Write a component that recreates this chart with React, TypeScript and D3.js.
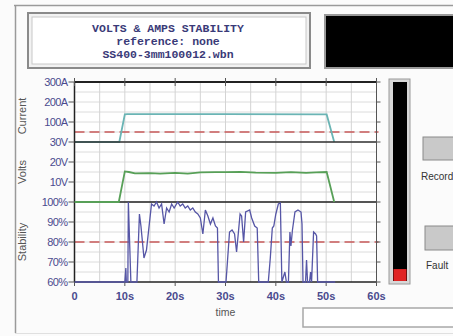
import React from "react";
import * as d3 from "d3";

// ---- data ----
const titleLines = ["VOLTS & AMPS STABILITY", "reference: none", "SS400-3mm100012.wbn"];
const timeTicks = [0, 10, 20, 30, 40, 50, 60];
const timeTickLabels = ["0", "10s", "20s", "30s", "40s", "50s", "60s"];
const currentTicks = [300, 200, 100];
const currentTickLabels = ["300A", "200A", "100A"];
const voltTicks = [30, 20, 10];
const voltTickLabels = ["30V", "20V", "10V"];
const stabTicks = [100, 90, 80, 70, 60];
const stabTickLabels = ["100%", "90%", "80%", "70%", "60%"];
const currentRef = 50;
const stabRef = 80;
const meterLevel = 0.06;

const currentT = [0, 8.9, 10.0, 10.5, 30, 50.1, 51.6];
const currentV = [0, 0, 138, 139, 139, 138, 0];

const voltT = [0, 8.8, 10.0, 10.8, 12, 15, 17, 20, 22.5, 25, 28, 30, 33, 36, 40, 43, 46, 48, 50.1, 51.6];
const voltV = [0, 0, 15.3, 15.0, 14.3, 14.4, 14.2, 14.6, 14.2, 14.8, 14.9, 14.9, 15.1, 14.7, 14.6, 14.9, 14.6, 14.8, 15.0, 0];

const stabT = [0, 10.0, 10.2, 10.3, 10.6, 10.7, 11.2, 12.4, 12.9, 13.2, 13.8, 14.3, 15.3, 15.8, 16.3, 16.8, 17.3, 17.8, 18.3, 18.8, 19.3, 19.8, 20.5, 21.0, 21.5, 22.0, 22.5, 23.0, 23.5, 24.0, 24.5, 25.0, 25.5, 26.0, 26.5, 27.0, 27.5, 28.0, 28.4, 28.6, 30.1, 30.8, 31.3, 31.8, 32.2, 32.9, 33.2, 33.6, 34.0, 34.8, 35.2, 35.8, 36.3, 36.6, 38.5, 38.9, 39.3, 39.6, 40.0, 40.5, 40.9, 41.2, 41.8, 42.1, 42.5, 42.8, 43.0, 43.3, 43.8, 44.4, 45.0, 45.2, 45.4, 45.9, 46.1, 46.3, 46.7, 46.9, 47.1, 47.5, 47.9, 48.1, 48.3, 51.8];
const stabV = [60, 60, 67, 60, 60, 100, 60, 60, 94, 88, 72, 76, 99, 98, 100, 97, 99, 89, 97, 95, 99, 97, 100, 98, 99, 97, 98, 96, 97, 95, 94, 92, 84, 96, 93, 89, 92, 88, 87, 60, 60, 85, 86, 84, 75, 94, 93, 80, 95, 96, 92, 88, 87, 60, 60, 72, 87, 88, 94, 99, 99.5, 60, 65, 60, 60, 85, 78, 86, 95, 96, 95, 89, 60, 60, 71, 60, 60, 65, 60, 85, 84, 83, 60, 60];

// ---- layout ----
const W = 453, H = 336;
const X0 = 74.5, X1 = 376.5;
const Y0 = 82, YC = 142, YV = 202, YB = 282;

export default function App() {
  const x = d3.scaleLinear().domain([0, 60]).range([X0, X1]);
  const yC = d3.scaleLinear().domain([0, 300]).range([YC, Y0]);
  const yV = d3.scaleLinear().domain([0, 30]).range([YV, YC]);
  const yS = d3.scaleLinear().domain([60, 100]).range([YB, YV]);

  const lineC = d3.line<number>().x((_, i) => x(currentT[i])).y((d) => yC(d));
  const lineV = d3.line<number>().x((_, i) => x(voltT[i])).y((d) => yV(d));
  const lineS = d3.line<number>().x((_, i) => x(stabT[i])).y((d) => yS(d));

  const vGrid = d3.range(5, 60, 5);
  const hGrid = d3.range(Y0 + 10, YB, 10);
  const rightTicks = d3.range(Y0, YB + 1, 20);

  const labelFont = "Liberation Sans, Arial, sans-serif";
  const tickColor = "#4a4a8e";

  const yTickItems = [
    ...currentTicks.map((v, i) => ({ y: yC(v), label: currentTickLabels[i] })),
    ...voltTicks.map((v, i) => ({ y: yV(v), label: voltTickLabels[i] })),
    ...stabTicks.map((v, i) => ({ y: yS(v), label: stabTickLabels[i] })),
  ];

  const meterTop = 82, meterBot = 281;
  const meterY = d3.scaleLinear().domain([0, 1]).range([meterBot, meterTop]);

  return (
    <svg width={W} height={H} style={{ position: "absolute", left: 0, top: 0, background: "#fbfbfb" }}>
      {/* outer frame */}
      <line x1={14} y1={5.5} x2={W} y2={5.5} stroke="#9a9a9a" strokeWidth={1.5} />
      <line x1={15.5} y1={5} x2={15.5} y2={333} stroke="#9a9a9a" strokeWidth={1.5} />
      <line x1={15} y1={333.5} x2={W} y2={333.5} stroke="#e0e0e0" strokeWidth={1} />

      {/* title box */}
      <rect x={28} y={13} width={282} height={55} fill="#f2f2f2" stroke="#8a8a8a" strokeWidth={2} />
      <rect x={32} y={17} width={274} height={47} fill="#ffffff" stroke="#c8c8c8" strokeWidth={1} />
      {titleLines.map((t, i) => (
        <text key={i} x={168} y={32 + i * 13} textAnchor="middle" fontFamily="Liberation Mono, Courier New, monospace"
          fontWeight="bold" fontSize={11.5} fill="#3a3a78">{t}</text>
      ))}

      {/* black box */}
      <rect x={325} y={15} width={135} height={53} fill="#000" stroke="#9a9a9a" strokeWidth={2} />

      {/* plot background */}
      <rect x={X0} y={Y0} width={X1 - X0} height={YB - Y0} fill="#ffffff" />
      {hGrid.map((gy) => (
        <line key={"h" + gy} x1={X0} x2={X1} y1={gy} y2={gy} stroke="#dcdcdc" strokeWidth={1} />
      ))}
      {vGrid.map((t) => (
        <line key={"v" + t} x1={x(t)} x2={x(t)} y1={Y0} y2={YB} stroke="#d4d4d4" strokeWidth={1} />
      ))}

      {/* reference dashed lines */}
      <line x1={X0} x2={X1 + 2} y1={yC(currentRef)} y2={yC(currentRef)} stroke="#c85a5a" strokeWidth={1.5} strokeDasharray="10,5" />
      <line x1={X0} x2={X1 + 2} y1={yS(stabRef)} y2={yS(stabRef)} stroke="#c85a5a" strokeWidth={1.5} strokeDasharray="10,5" />

      {/* current trace (under borders) */}
      <path d={lineC(currentV) || ""} fill="none" stroke="#6ab4b4" strokeWidth={1.8} />

      {/* borders */}
      <line x1={X0} x2={X1} y1={Y0} y2={Y0} stroke="#222" strokeWidth={2} />
      <line x1={X0} x2={X1} y1={YC} y2={YC} stroke="#333" strokeWidth={1.5} />
      <line x1={X0} x2={X1} y1={YV} y2={YV} stroke="#222" strokeWidth={1.5} />
      <line x1={X0} x2={X1} y1={YB} y2={YB} stroke="#222" strokeWidth={1.5} />
      <line x1={X0} x2={X0} y1={Y0} y2={YB} stroke="#222" strokeWidth={1.5} />
      <line x1={X1} x2={X1} y1={Y0} y2={YB} stroke="#555" strokeWidth={1} />

      {/* top ticks */}
      {timeTicks.map((t) => (
        <line key={"tt" + t} x1={x(t)} x2={x(t)} y1={78} y2={86} stroke="#555" strokeWidth={1} />
      ))}
      {/* bottom ticks */}
      {timeTicks.map((t) => (
        <line key={"bt" + t} x1={x(t)} x2={x(t)} y1={YB} y2={YB + 4} stroke="#555" strokeWidth={1} />
      ))}
      {/* right ticks */}
      {rightTicks.map((ry) => (
        <line key={"rt" + ry} x1={X1} x2={X1 + 4} y1={ry} y2={ry} stroke="#555" strokeWidth={1} />
      ))}

      {/* volts & stability traces */}
      <path d={lineV(voltV) || ""} fill="none" stroke="#58a058" strokeWidth={1.8} />
      <path d={lineS(stabV) || ""} fill="none" stroke="#5656a6" strokeWidth={1.3} />

      {/* y tick labels */}
      {yTickItems.map((d, i) => (
        <g key={"yl" + i}>
          <line x1={X0 - 6} x2={X0} y1={d.y} y2={d.y} stroke="#555" strokeWidth={1} />
          <text x={X0 - 7} y={d.y + 4} textAnchor="end" fontFamily={labelFont} fontSize={11} fill={tickColor} letterSpacing={-0.6}>{d.label}</text>
        </g>
      ))}

      {/* x tick labels */}
      {timeTicks.map((t, i) => (
        <text key={"xl" + t} x={x(t)} y={300} textAnchor="middle" fontFamily={labelFont} fontSize={11} fontWeight="bold" fill={tickColor}>{timeTickLabels[i]}</text>
      ))}
      <text x={x(30)} y={316} textAnchor="middle" fontFamily={labelFont} fontSize={10.5} fill="#555">time</text>

      {/* axis titles */}
      <text transform={`translate(26,${(Y0 + YC) / 2 + 4}) rotate(-90)`} textAnchor="middle" fontFamily={labelFont} fontSize={11} fill="#555">Current</text>
      <text transform={`translate(26,${(YC + YV) / 2}) rotate(-90)`} textAnchor="middle" fontFamily={labelFont} fontSize={11} fill="#555">Volts</text>
      <text transform={`translate(26,${(YV + YB) / 2}) rotate(-90)`} textAnchor="middle" fontFamily={labelFont} fontSize={11} fill="#555">Stability</text>

      {/* meter */}
      <rect x={389} y={79} width={21} height={205} fill="#d8d8d8" stroke="#9a9a9a" strokeWidth={1} />
      <rect x={393} y={meterTop} width={14} height={meterBot - meterTop} fill="#000" />
      <rect x={393.5} y={meterY(meterLevel)} width={13} height={meterBot - meterY(meterLevel)} fill="#e02424" />

      {/* buttons */}
      <rect x={423} y={137} width={40} height={23} fill="#c9c9c9" stroke="#8a8a8a" strokeWidth={1} />
      <text x={421} y={180} fontFamily={labelFont} fontSize={10} fill="#333">Record</text>
      <rect x={425} y={226} width={40} height={24} fill="#c9c9c9" stroke="#8a8a8a" strokeWidth={1} />
      <text x={426} y={269} fontFamily={labelFont} fontSize={10} fill="#333">Fault</text>

      {/* progress box */}
      <rect x={303} y={308} width={160} height={19} fill="#ffffff" stroke="#a8a8a8" strokeWidth={1.5} />
    </svg>
  );
}
